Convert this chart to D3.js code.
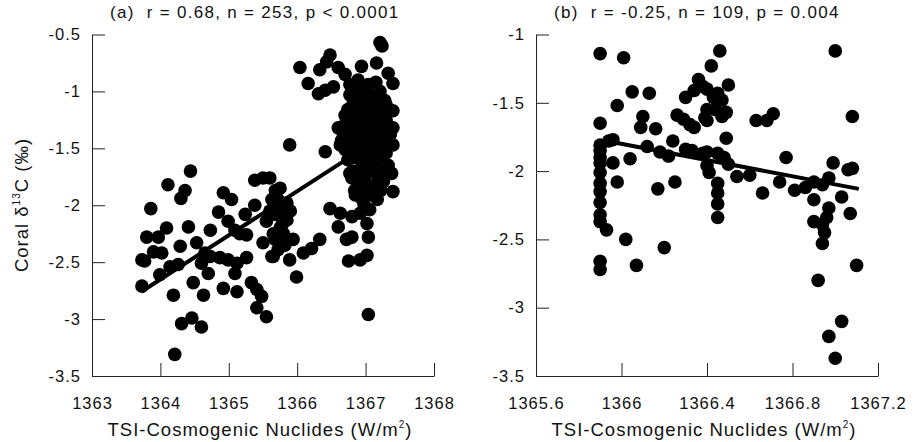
<!DOCTYPE html>
<html>
<head>
<meta charset="utf-8">
<script src="https://cdn.jsdelivr.net/npm/d3@7"></script>
<style>
  body { margin: 0; background: #fff; }
  svg { display: block; }
  text { font-family: "Liberation Sans", Arial, sans-serif; fill: #111; }
</style>
</head>
<body>
<script>
/*eslint-disable*/

const tsiA = [
  1363.73, 1363.73, 1363.77, 1363.80, 1363.86, 1363.90, 1363.97, 1363.99, 1364.02, 1364.09,
  1364.11, 1364.14, 1364.19, 1364.21, 1364.26, 1364.29, 1364.30, 1364.36, 1364.41, 1364.44,
  1364.48, 1364.53, 1364.60, 1364.63, 1364.65, 1364.70, 1364.73, 1364.73, 1364.85, 1364.87,
  1364.92, 1364.92, 1364.99, 1364.99, 1365.04, 1365.09, 1365.09, 1365.12, 1365.12, 1365.24,
  1365.26, 1365.26, 1365.33, 1365.38, 1365.38, 1365.41, 1365.48, 1365.41, 1365.55, 1365.50,
  1365.50, 1365.55, 1365.63, 1365.63, 1364.31, 1364.46, 1364.60, 1365.75, 1365.60, 1365.85,
  1365.75, 1365.85, 1365.80, 1365.94, 1365.65, 1365.89, 1365.99, 1366.09, 1366.21, 1366.33,
  1365.89, 1366.04, 1366.16, 1366.33, 1366.48, 1366.43, 1366.31, 1366.41, 1366.53, 1366.60,
  1366.70, 1366.41, 1366.94, 1367.16, 1367.21, 1367.24, 1367.33, 1367.40, 1367.40, 1367.40,
  1367.40, 1367.38, 1367.40, 1367.24, 1367.06, 1366.77, 1366.70, 1366.48, 1366.63, 1366.60,
  1366.72, 1366.80, 1366.75, 1366.92, 1367.02, 1366.80, 1366.92, 1367.06, 1367.02, 1367.04,
  1367.04, 1367.26, 1365.16, 1365.68, 1365.72, 1365.69, 1365.78, 1365.68, 1365.82, 1365.72,
  1366.77, 1366.85, 1366.92, 1366.99, 1367.06, 1367.14, 1367.21, 1367.28, 1366.74, 1366.85,
  1366.95, 1367.04, 1367.14, 1367.24, 1367.33, 1366.70, 1366.80, 1366.89, 1366.99, 1367.09,
  1367.18, 1367.28, 1367.36, 1366.65, 1366.77, 1366.86, 1366.95, 1367.06, 1367.15, 1367.27,
  1366.74, 1366.85, 1366.95, 1367.04, 1367.14, 1367.24, 1367.33, 1366.80, 1366.89, 1366.99,
  1367.09, 1367.18, 1366.85, 1366.95, 1367.06, 1367.17, 1366.67, 1366.70, 1366.89, 1367.04,
  1367.15, 1366.77, 1366.60, 1366.63,
  1366.81, 1366.90, 1367.00, 1367.10, 1367.19, 1367.30, 1366.81, 1366.90, 1367.00, 1367.10,
  1367.19, 1367.30, 1366.81, 1366.90, 1367.00, 1367.10, 1367.19, 1367.30, 1366.81, 1366.90,
  1367.00, 1367.10, 1367.19, 1367.30, 1366.81, 1366.90, 1367.00, 1367.10, 1367.19, 1367.30,
  1366.84, 1366.93, 1367.02, 1367.12, 1367.22, 1366.98,
  1365.60, 1365.75, 1365.85, 1365.90, 1365.65
];
const d13cA = [
  -2.71, -2.48, -2.49, -2.28, -2.03, -2.41, -2.28, -2.61, -2.42, -2.20,
  -1.82, -2.54, -2.79, -3.31, -2.52, -2.36, -1.94, -1.87, -2.19, -1.70,
  -2.68, -2.33, -2.51, -2.79, -2.42, -2.60, -2.22, -2.45, -2.06, -2.46,
  -1.89, -2.73, -2.14, -2.48, -1.95, -2.22, -2.60, -2.51, -2.76, -2.08,
  -2.26, -2.46, -2.68, -1.78, -2.00, -2.74, -2.80, -2.90, -2.98, -1.76,
  -2.33, -2.14, -1.95, -2.45, -3.04, -2.99, -3.07, -1.85, -1.76, -1.98,
  -2.04, -2.13, -2.25, -2.30, -2.45, -2.48, -2.63, -2.42, -2.38, -2.30,
  -1.47, -0.79, -0.93, -0.81, -0.68, -0.74, -1.02, -0.99, -0.96, -0.79,
  -0.85, -1.53, -0.78, -0.75, -0.57, -0.60, -0.84, -0.93, -1.17, -1.32,
  -1.47, -1.72, -1.88, -1.76, -1.69, -1.72, -1.51, -2.03, -2.07, -2.19,
  -2.30, -2.28, -2.49, -2.48, -2.44, -2.10, -2.07, -2.04, -2.16, -2.28,
  -2.96, -1.79, -2.25, -1.87, -1.95, -2.08, -2.17, -2.30, -2.35, -2.39,
  -1.03, -1.08, -1.00, -1.06, -1.03, -1.08, -1.00, -1.08, -1.16, -1.21,
  -1.15, -1.21, -1.16, -1.21, -1.15, -1.29, -1.34, -1.29, -1.34, -1.29,
  -1.36, -1.29, -1.38, -1.43, -1.47, -1.43, -1.49, -1.43, -1.50, -1.44,
  -1.60, -1.58, -1.65, -1.58, -1.62, -1.58, -1.65, -1.76, -1.82, -1.78,
  -1.85, -1.79, -1.91, -1.95, -1.91, -1.95, -1.36, -1.21, -0.90, -0.94,
  -0.92, -0.94, -1.32, -1.47,
  -1.12, -1.12, -1.12, -1.12, -1.12, -1.12, -1.25, -1.25, -1.25, -1.25,
  -1.25, -1.25, -1.40, -1.40, -1.40, -1.40, -1.40, -1.40, -1.54, -1.54,
  -1.54, -1.54, -1.54, -1.54, -1.70, -1.70, -1.70, -1.70, -1.70, -1.70,
  -1.87, -1.87, -1.87, -1.87, -1.87, -2.00,
  -2.05, -2.20, -2.30, -2.05, -2.25
];

const tsiB = [
  1365.90, 1366.01, 1366.46, 1367.00, 1366.42, 1366.36, 1366.30, 1366.34, 1366.05, 1366.13,
  1365.98, 1365.90, 1366.10, 1366.09, 1366.16, 1366.26, 1366.29, 1366.32, 1366.34, 1366.39,
  1366.40, 1366.44, 1366.47, 1366.49, 1366.50, 1366.47, 1366.45, 1366.40, 1366.43, 1366.40,
  1367.08, 1366.63, 1366.68, 1366.71, 1366.49, 1366.24, 1365.90, 1365.94, 1365.96, 1366.12,
  1366.18, 1366.22, 1366.30, 1366.33, 1366.38, 1366.40, 1366.45, 1366.48, 1366.50, 1366.77,
  1365.90, 1365.90, 1365.90, 1365.90, 1365.90, 1365.90, 1365.96, 1365.98, 1366.04, 1366.17,
  1366.25, 1366.40, 1366.41, 1366.45, 1366.45, 1366.45, 1366.45, 1366.54, 1366.60, 1366.66,
  1366.74, 1366.81, 1366.86, 1366.90, 1366.94, 1366.97, 1366.99, 1367.06, 1367.08, 1366.90,
  1366.97, 1367.03, 1367.07, 1366.96, 1366.94, 1366.90, 1366.95, 1366.94, 1365.90, 1365.90,
  1365.93, 1366.02, 1366.20, 1365.90, 1365.90, 1366.07, 1367.10, 1366.92, 1367.03, 1366.97,
  1367.00, 1365.90, 1366.38
];
const d13cB = [
  -1.14, -1.17, -1.12, -1.12, -1.23, -1.33, -1.46, -1.41, -1.42, -1.43,
  -1.52, -1.65, -1.60, -1.68, -1.69, -1.59, -1.62, -1.66, -1.68, -1.61,
  -1.55, -1.55, -1.60, -1.57, -1.37, -1.48, -1.43, -1.40, -1.46, -1.63,
  -1.60, -1.63, -1.63, -1.58, -1.76, -1.78, -1.81, -1.78, -1.77, -1.82,
  -1.86, -1.89, -1.84, -1.85, -1.87, -1.86, -1.87, -1.90, -1.95, -1.90,
  -1.90, -1.94, -2.01, -2.09, -2.15, -2.23, -1.94, -2.08, -1.91, -2.13,
  -2.08, -1.96, -2.01, -2.09, -2.16, -2.24, -2.34, -2.04, -2.03, -2.16,
  -2.08, -2.14, -2.12, -2.08, -2.10, -2.05, -1.94, -1.99, -1.98, -2.21,
  -2.27, -2.19, -2.31, -2.34, -2.39, -2.37, -2.45, -2.53, -2.32, -2.37,
  -2.43, -2.50, -2.56, -2.66, -2.72, -2.69, -2.69, -2.80, -3.10, -3.21,
  -3.37, -1.85, -1.38
];

const fitA = [[1363.72, -2.76], [1367.10, -1.45]];
const fitB = [[1365.93, -1.78], [1367.11, -2.13]];

const xTicksA = [1363, 1364, 1365, 1366, 1367, 1368];
const yTicksA = [-0.5, -1, -1.5, -2, -2.5, -3, -3.5];
const xTicksB = [1365.6, 1366, 1366.4, 1366.8, 1367.2];
const yTicksB = [-1, -1.5, -2, -2.5, -3, -3.5];

const titleA = "(a)  r = 0.68, n = 253, p < 0.0001";
const titleB = "(b)  r = -0.25, n = 109, p = 0.004";

const svg = d3.select("body").append("svg")
  .attr("width", 915)
  .attr("height", 442)
  .style("background-color", "white");

const drawPanel = ({ left, right, top, bottom, xTicks, yTicks, xs, ys, fit, title }) => {
  const x = d3.scaleLinear()
    .domain(d3.extent(xTicks))
    .range([left, right]);
  const y = d3.scaleLinear()
    .domain(d3.extent(yTicks))
    .range([bottom, top]);

  const g = svg.append("g");

  g.append("g")
    .selectAll("circle")
    .data(xs.map((v, i) => [v, ys[i]]))
    .join("circle")
      .attr("cx", d => x(d[0]))
      .attr("cy", d => y(d[1]))
      .attr("r", 6.8)
      .attr("fill", "#000");

  const line = d3.line()
    .x(d => x(d[0]))
    .y(d => y(d[1]));

  g.append("path")
    .datum(fit)
    .attr("d", line)
    .attr("fill", "none")
    .attr("stroke", "#000")
    .attr("stroke-width", 4);

  const xAxis = g.append("g")
    .attr("transform", `translate(0, ${bottom})`)
    .call(d3.axisBottom(x)
      .tickValues(xTicks)
      .tickFormat(d => String(d))
      .tickSizeInner(-13)
      .tickSizeOuter(0)
      .tickPadding(21));

  const yAxis = g.append("g")
    .attr("transform", `translate(${left}, 0)`)
    .call(d3.axisLeft(y)
      .tickValues(yTicks)
      .tickFormat(d => String(d))
      .tickSizeInner(-13)
      .tickSizeOuter(0)
      .tickPadding(11));

  [xAxis, yAxis].forEach(a => {
    a.selectAll("path, line").attr("stroke", "#222");
    a.selectAll("text")
      .style("font-size", "16.5px")
      .style("letter-spacing", "1px")
      .attr("fill", "#111");
  });

  g.append("text")
    .attr("x", left + 18)
    .attr("y", 18)
    .style("font-size", "17px")
    .style("letter-spacing", "1.3px")
    .style("white-space", "pre")
    .text(title);

  const xLabel = g.append("text")
    .attr("x", (left + right) / 2 - 3)
    .attr("y", 436)
    .attr("text-anchor", "middle")
    .style("font-size", "18.5px")
    .style("letter-spacing", "1px");
  xLabel.append("tspan").text("TSI-Cosmogenic Nuclides (W/m");
  xLabel.append("tspan").attr("dy", -8).style("font-size", "10px").text("2");
  xLabel.append("tspan").attr("dy", 8).text(")");
};

drawPanel({
  left: 92, right: 434, top: 34.5, bottom: 376,
  xTicks: xTicksA, yTicks: yTicksA, xs: tsiA, ys: d13cA, fit: fitA, title: titleA
});

drawPanel({
  left: 536, right: 878, top: 34.5, bottom: 376,
  xTicks: xTicksB, yTicks: yTicksB, xs: tsiB, ys: d13cB, fit: fitB, title: titleB
});

const yLabel = svg.append("text")
  .attr("transform", "translate(28, 205) rotate(-90)")
  .attr("text-anchor", "middle")
  .style("font-size", "18.5px")
  .style("letter-spacing", "1px");
yLabel.append("tspan").text("Coral δ");
yLabel.append("tspan").attr("dy", -8).style("font-size", "10px").text("13");
yLabel.append("tspan").attr("dy", 8).text("C (‰)");
</script>
</body>
</html>
